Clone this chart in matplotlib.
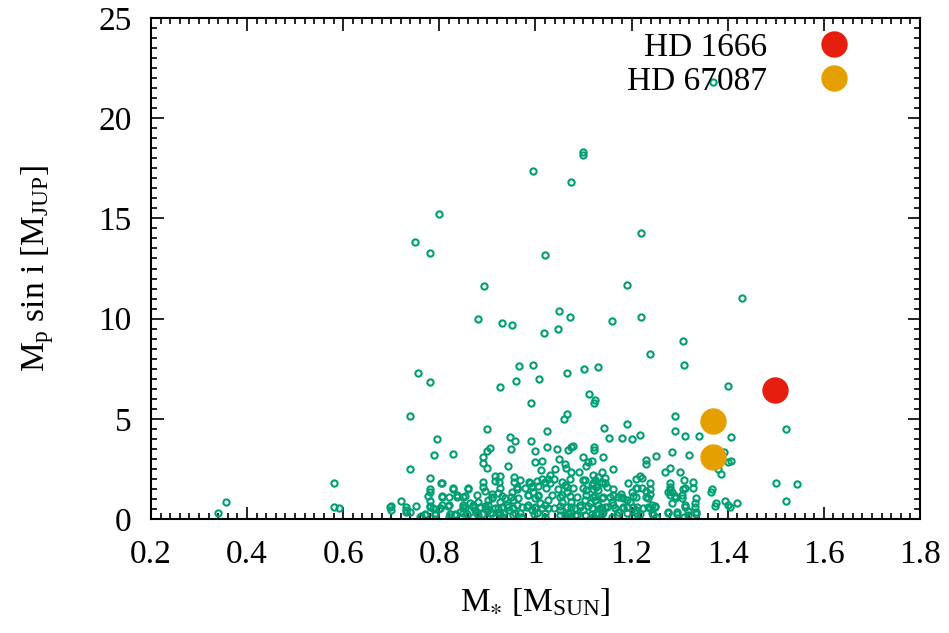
import matplotlib
matplotlib.use("Agg")
import matplotlib.pyplot as plt

plt.rcParams['font.family'] = ['Liberation Serif', 'DejaVu Serif']
plt.rcParams['mathtext.default'] = 'regular'

# known planets: stellar mass [M_sun], M_p sin i [M_jup]
mstar = [1.100, 1.100, 0.995, 1.074, 0.800, 0.750, 0.780, 1.020, 1.220, 0.894,
         1.191, 1.430, 0.880, 0.930, 0.951, 1.050, 1.071, 1.048, 1.017, 1.160,
         1.220, 1.308, 1.238, 1.310, 0.756, 0.780, 0.965, 0.995, 1.065, 1.101,
         1.130, 0.960, 1.007, 0.927, 1.400, 1.370,
         0.340, 0.357, 0.580, 0.580, 0.591, 0.697,
         1.112, 1.121, 1.124, 0.990, 0.740, 1.066, 1.060, 0.900, 1.025, 0.796,
         0.948, 0.958, 0.990, 0.790, 0.828, 0.900, 0.905, 0.891, 0.890, 0.900,
         0.950, 1.000, 1.025, 1.045, 1.068, 1.074, 1.079, 1.100, 1.121, 1.121,
         1.110, 1.118, 1.050, 1.061, 1.063, 1.000, 1.014, 0.943, 1.040, 1.074,
         1.091, 1.100, 0.740, 0.780, 1.012, 0.915, 0.926, 0.915, 0.924,
         0.803, 0.828, 0.860, 0.780, 0.780, 0.806, 0.821, 0.836, 0.850, 0.720,
         0.780, 0.700, 0.700, 0.731, 0.731, 0.731, 0.751, 0.740, 0.761, 0.771,
         0.780, 0.787, 0.791, 0.801, 0.805, 0.821, 0.822, 0.833, 0.843, 0.850,
         0.853, 0.857, 0.864, 0.871, 0.874, 0.881, 0.885, 0.878, 0.888, 0.898,
         0.902, 0.895,
         0.956, 0.968, 0.956, 0.961, 0.987, 0.992, 1.003, 1.006, 1.013, 1.020,
         1.027, 1.030, 1.038, 1.055, 1.061, 1.072, 1.079, 1.065, 1.055, 1.103,
         1.106, 1.117, 0.909, 0.923, 0.909, 0.902, 0.926, 0.937, 0.940, 0.951,
         0.954, 0.964, 0.978, 0.985, 0.995, 0.999, 1.006, 1.009, 0.985, 0.992,
         0.999, 1.003, 1.013, 1.020, 1.027, 1.038, 0.973, 0.916, 0.923, 0.930,
         0.933, 0.944, 0.954, 0.957, 0.909, 0.902, 1.055, 1.065, 1.075, 1.082,
         1.093, 1.100, 1.103, 1.113, 1.068, 1.082, 1.051, 1.061, 1.103, 1.117,
         1.140, 1.230, 1.230, 1.251, 1.320, 1.161, 1.280, 1.270, 1.301, 1.119,
         1.124, 1.131, 1.138, 1.145, 1.145, 1.127, 1.131, 1.138, 1.210, 1.217,
         1.221, 1.238, 1.280, 1.309, 1.328, 1.161, 1.200, 1.210, 1.221, 1.231,
         1.238, 1.235, 1.280, 1.284, 1.276, 1.306, 1.327, 1.120, 1.124, 1.138,
         1.141, 1.155, 1.159, 1.172, 1.179, 1.183, 1.190, 1.197, 1.210, 1.291,
         1.304, 1.284, 1.311, 1.332, 1.334, 1.117, 1.131, 1.138, 1.141, 1.131,
         1.145, 1.166, 1.172, 1.183, 1.190, 1.203, 1.210, 1.224, 1.235, 1.242,
         1.249, 1.210, 1.242, 1.276, 1.294, 1.318, 1.335,
         1.386, 1.380, 1.401, 1.407, 1.393, 1.500, 1.544, 1.365, 1.375, 1.394,
         1.400, 1.405, 1.419, 1.521, 1.521, 1.290, 1.190, 1.143, 1.290, 1.154,
         1.180, 1.200, 1.218, 1.311, 1.341, 1.407, 1.106, 1.285,
         0.760, 0.820, 0.870, 0.930, 0.970, 1.020, 1.070, 1.120, 1.160, 1.200,
         1.250, 1.310,
         0.770, 0.791, 0.822, 0.833, 0.850, 0.881, 0.905, 0.926, 0.954, 0.968,
         0.996, 1.020, 1.051, 1.068, 1.086, 1.127, 1.138, 1.169, 1.190, 1.217,
         1.245, 1.276, 1.294, 1.318, 1.335,
         0.781, 0.801, 0.819, 0.850, 0.871, 0.895, 0.923, 0.943, 0.961, 0.982,
         0.999, 1.027, 1.051, 1.075, 1.093, 1.110, 1.134, 1.148, 1.162, 1.183,
         1.211, 1.238, 1.249, 1.311, 1.332, 1.374,
         0.777, 0.805, 0.836, 0.853, 0.878, 0.909, 0.930, 0.950, 0.985, 1.006,
         1.034, 1.051, 1.072, 1.086, 1.106, 1.124, 1.162, 1.179, 1.204, 1.231,
         1.280, 1.290, 1.304,
         0.829, 0.860, 0.891, 0.926, 0.961, 0.992, 1.023, 1.048, 1.065, 1.100,
         1.120, 1.148, 1.211, 1.238, 1.280, 1.311, 1.367,
         0.805, 0.891, 0.989, 1.030, 1.120, 1.138, 1.193]
msini = [18.33, 18.16, 17.37, 16.82, 15.20, 13.84, 13.29, 13.17, 14.27, 11.64,
         11.69, 11.01, 9.98, 9.80, 9.70, 10.38, 10.10, 9.48, 9.28, 9.88,
         10.06, 8.87, 8.25, 7.67, 7.29, 6.85, 7.63, 7.70, 7.30, 7.47,
         7.57, 6.89, 6.97, 6.60, 6.64, 21.79,
         0.32, 0.85, 1.78, 0.58, 0.53, 0.61,
         6.24, 5.77, 5.94, 5.80, 5.14, 5.24, 5.00, 4.48, 4.41, 4.01,
         4.08, 3.89, 3.89, 3.21, 3.26, 3.39, 3.56, 3.08, 2.78, 2.56,
         3.49, 3.38, 3.59, 3.51, 3.43, 3.58, 3.66, 3.09, 3.59, 3.44,
         2.86, 2.89, 2.98, 2.76, 2.56, 2.83, 2.89, 2.63, 2.48, 2.36,
         2.33, 1.93, 2.51, 2.03, 2.45, 2.16, 2.16, 1.90, 1.86,
         1.78, 1.48, 1.55, 1.48, 1.36, 1.16, 1.08, 1.08, 1.11, 0.90,
         0.90, 0.66, 0.45, 0.58, 0.45, 0.33, 0.65, 0.33, 0.16, 0.23,
         0.65, 0.53, 0.20, 0.53, 0.70, 0.70, 0.23, 0.23, 0.36, 0.70,
         0.53, 0.23, 0.78, 0.70, 0.45, 0.86, 0.61, 0.28, 0.23, 0.53,
         0.95, 1.40,
         2.11, 1.95, 1.83, 1.58, 1.86, 1.66, 1.90, 1.66, 2.00, 1.83,
         2.00, 2.20, 2.00, 1.86, 1.70, 2.00, 1.56, 1.36, 1.20, 1.95,
         1.45, 1.70, 1.23, 1.28, 1.03, 0.70, 0.86, 1.03, 0.70, 1.36,
         0.95, 1.06, 1.53, 1.20, 1.36, 1.03, 1.20, 0.78, 0.70, 0.45,
         0.53, 0.28, 0.53, 0.70, 0.95, 0.53, 0.61, 0.53, 0.36, 0.61,
         0.28, 0.45, 0.53, 0.28, 0.28, 0.45, 0.86, 0.61, 0.86, 0.53,
         0.70, 0.45, 0.95, 0.78, 0.28, 0.20, 0.45, 0.20, 0.20, 0.23,
         3.11, 2.94, 2.73, 3.14, 3.19, 2.50, 2.53, 2.36, 2.33, 2.20,
         1.95, 2.11, 2.36, 2.03, 1.78, 1.61, 1.45, 1.78, 2.00, 2.16,
         2.06, 1.78, 1.78, 1.95, 1.86, 1.48, 1.36, 1.53, 1.53, 1.40,
         1.23, 1.03, 1.45, 1.36, 1.36, 1.48, 1.53, 1.11, 0.95, 1.03,
         1.11, 1.11, 0.86, 1.11, 1.23, 1.03, 0.95, 0.86, 1.11, 1.03,
         1.03, 0.78, 0.70, 0.78, 1.03, 0.53, 0.70, 0.53, 0.36, 0.23,
         0.61, 0.53, 0.36, 0.53, 0.61, 0.61, 0.45, 0.53, 0.61, 0.70,
         0.61, 0.28, 0.28, 0.36, 0.36, 0.40, 0.36,
         2.25, 2.48, 2.86, 2.91, 3.36, 1.81, 1.75, 1.35, 0.78, 0.91,
         0.70, 0.61, 0.81, 0.91, 4.51, 5.14, 4.76, 4.54, 4.39, 4.04,
         4.03, 3.99, 4.21, 4.13, 4.14, 4.08, 2.64, 3.33,
         0.10, 0.10, 0.10, 0.10, 0.10, 0.10, 0.10, 0.10, 0.10, 0.10,
         0.10, 0.10,
         0.22, 0.30, 0.25, 0.18, 0.28, 0.22, 0.30, 0.25, 0.20, 0.28,
         0.24, 0.30, 0.22, 0.26, 0.20, 0.28, 0.24, 0.22, 0.30, 0.25,
         0.20, 0.28, 0.24, 0.22, 0.26,
         0.62, 0.55, 0.66, 0.60, 0.58, 0.64, 0.56, 0.62, 0.68, 0.58,
         0.62, 0.55, 0.66, 0.60, 0.58, 0.64, 0.56, 0.62, 0.68, 0.58,
         0.62, 0.55, 0.66, 0.60, 0.58, 0.64,
         1.15, 1.10, 1.20, 1.14, 1.18, 1.12, 1.16, 1.10, 1.20, 1.14,
         1.18, 1.12, 1.16, 1.10, 1.20, 1.14, 1.18, 1.12, 1.16, 1.10,
         1.20, 1.14, 1.18,
         1.55, 1.50, 1.60, 1.56, 1.52, 1.58, 1.54, 1.50, 1.60, 1.56,
         1.52, 1.58, 1.54, 1.50, 1.60, 1.56, 1.52,
         1.80, 1.84, 1.78, 1.82, 1.80, 1.85, 1.79]

# the two new systems
hd1666_m = [1.498]
hd1666_p = [6.44]
hd67087_m = [1.369, 1.369]
hd67087_p = [4.89, 3.09]

fig = plt.figure(figsize=(9.49, 6.33), dpi=100)
ax = fig.add_axes([0.159, 0.180, 0.8104, 0.7916])

ax.plot(mstar, msini, ls='none', marker='o', ms=4.5, mfc='none',
        mec='#009e73', mew=1.5, zorder=2)
ax.plot(hd1666_m, hd1666_p, ls='none', marker='o', ms=19, color='#e51e10',
        mec='none', label='HD 1666', zorder=3)
ax.plot(hd67087_m, hd67087_p, ls='none', marker='o', ms=19, color='#e69f00',
        mec='none', label='HD 67087', zorder=3)

ax.set_xlim(0.2, 1.8)
ax.set_ylim(0, 25)
ax.set_xticks([0.2, 0.4, 0.6, 0.8, 1.0, 1.2, 1.4, 1.6, 1.8])
ax.set_xticklabels(['0.2', '0.4', '0.6', '0.8', '1', '1.2', '1.4', '1.6', '1.8'])
ax.set_yticks([0, 5, 10, 15, 20, 25])
ax.set_xticks([0.2 + 0.02 * i for i in range(81)], minor=True)
ax.set_yticks([0.5 * i for i in range(51)], minor=True)
ax.tick_params(which='both', direction='in', top=True, right=True,
               labelsize=24, width=1.2)
ax.tick_params(axis='x', pad=15)
ax.tick_params(axis='y', pad=14)
ax.tick_params(which='major', length=9)
ax.tick_params(which='minor', length=4.5)
for s in ax.spines.values():
    s.set_linewidth(1.5)

ax.set_xlabel(r'M$_{\ast}$ [M$_{SUN}$]', fontsize=24, labelpad=11)
ax.set_ylabel(r'M$_{p}$ sin i [M$_{JUP}$]', fontsize=24, labelpad=30)

ax.legend(loc='upper right', bbox_to_anchor=(0.931, 0.972), frameon=False,
          markerfirst=False, fontsize=24, borderaxespad=0, borderpad=0,
          handletextpad=1.0, labelspacing=0.12, handlelength=2.0)

fig.savefig('out.png', dpi=100)
